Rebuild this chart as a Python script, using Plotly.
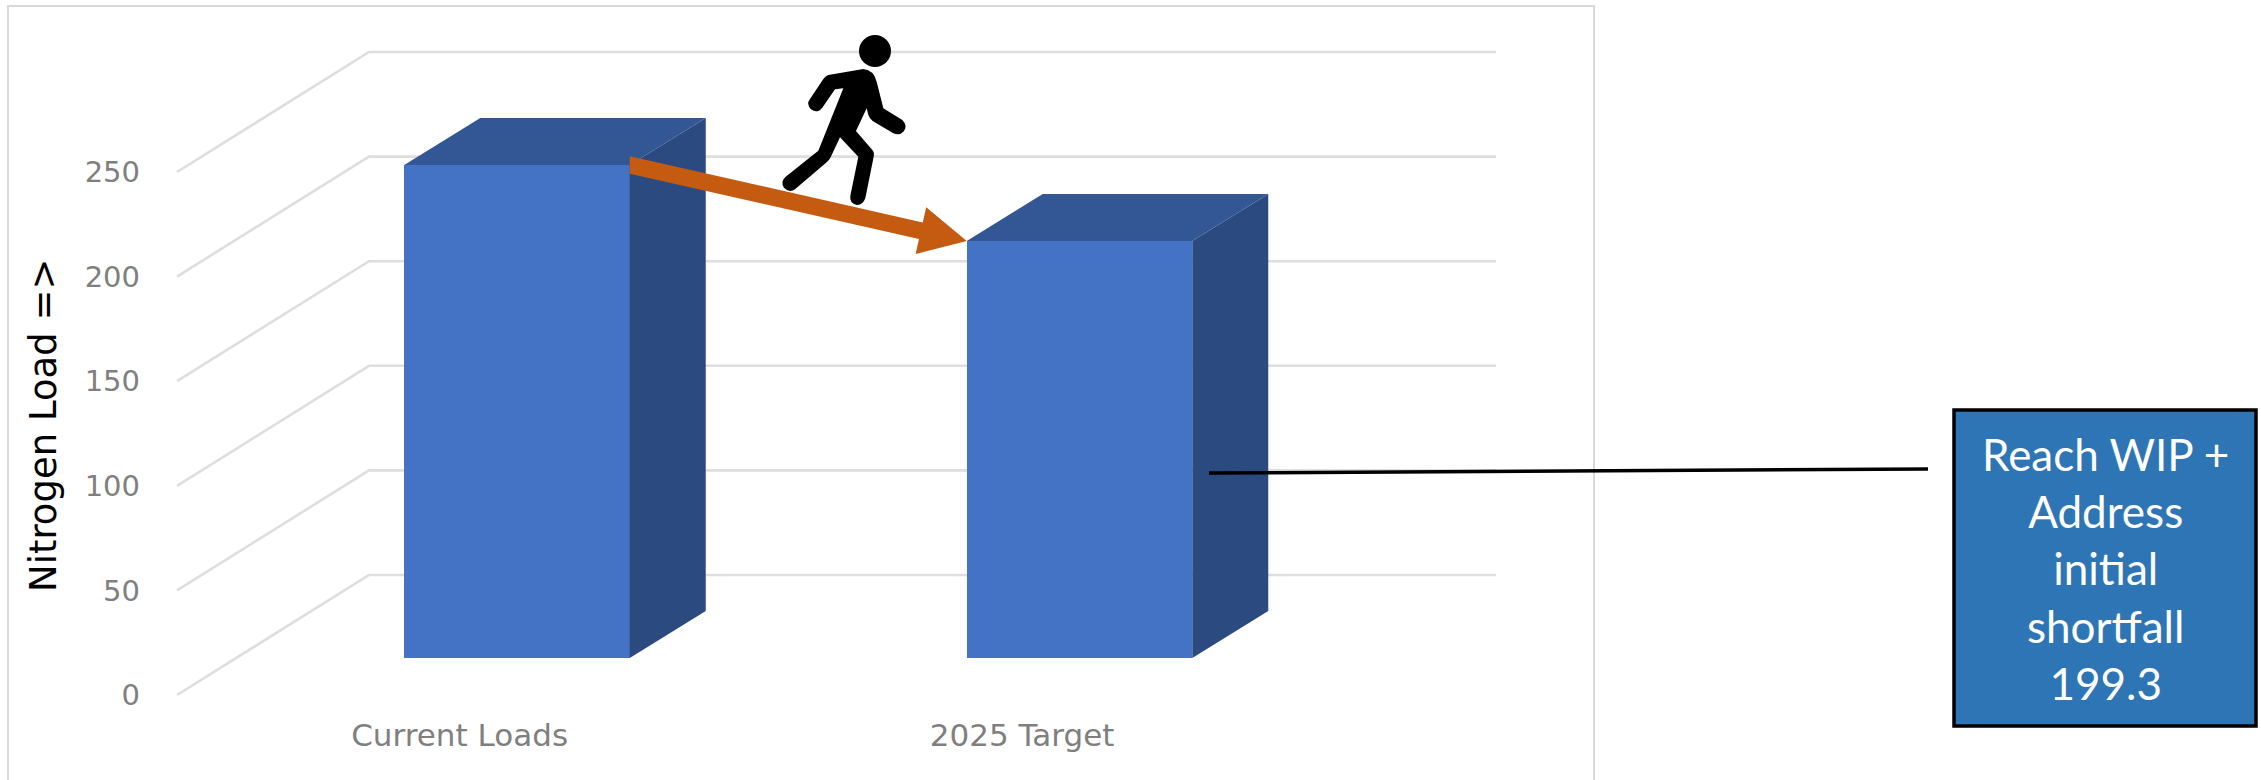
import plotly.graph_objects as go

# ---- data ----
categories = ["Current Loads", "2025 Target"]
nitrogen_load = [235.7, 199.3]
tick_values = [0, 50, 100, 150, 200, 250]
axis_title = "Nitrogen Load =>"
callout_lines = ["Reach WIP +", "Address", "initial", "shortfall", "199.3"]

# ---- page geometry ----
W, H = 2261, 780
ML, MB = 141, 66
CAT0_PX, PX_PER_CAT = 517.0, 562.5      # horizontal scale of the front plane
BASE_PX, PX_PER_UNIT = 658.0, 2.092     # vertical scale of the front plane
BAR_W = 225.5 / PX_PER_CAT
DEPTH_X, DEPTH_V = 76 / PX_PER_CAT, 47 / PX_PER_UNIT
FRONT_V = (BASE_PX - 695) / PX_PER_UNIT   # axis zero on the front edge of the floor
BACK_V = (BASE_PX - 575) / PX_PER_UNIT    # axis zero on the back wall
FLOOR_X0 = (177 - CAT0_PX) / PX_PER_CAT
WALL_X0 = (369 - CAT0_PX) / PX_PER_CAT
WALL_X1 = (1496 - CAT0_PX) / PX_PER_CAT
LABEL_SHIFT = -0.102

def px(x):
    return (x - ML) / (W - ML)
def py(y):
    return 1 - y / (H - MB)
def to_x(x):
    return (x - CAT0_PX) / PX_PER_CAT
def to_v(y):
    return (BASE_PX - y) / PX_PER_UNIT

fig = go.Figure()

# front faces
xs = list(range(len(categories)))
fig.add_trace(go.Bar(x=xs, y=nitrogen_load, width=BAR_W, marker=dict(color="#4472C4", line=dict(width=0)),
                     showlegend=False, hoverinfo="skip"))

# side and top faces
for i, v in zip(xs, nitrogen_load):
    l, r = i - BAR_W / 2, i + BAR_W / 2
    fig.add_trace(go.Scatter(x=[r, r + DEPTH_X, r + DEPTH_X, r, r], y=[0, DEPTH_V, v + DEPTH_V, v, 0],
                             mode="lines", fill="toself", fillcolor="#2B4A80", line=dict(width=0),
                             showlegend=False, hoverinfo="skip"))
    fig.add_trace(go.Scatter(x=[l, r, r + DEPTH_X, l + DEPTH_X, l], y=[v, v, v + DEPTH_V, v + DEPTH_V, v],
                             mode="lines", fill="toself", fillcolor="#335694", line=dict(width=0),
                             showlegend=False, hoverinfo="skip"))

# orange arrow between the bar tops, built in page pixels from the two values
def val_px(v):
    return BASE_PX - v * PX_PER_UNIT
tail = (CAT0_PX + (xs[0] + BAR_W / 2) * PX_PER_CAT, val_px(nitrogen_load[0]))
tip = (CAT0_PX + (xs[1] - BAR_W / 2) * PX_PER_CAT, val_px(nitrogen_load[1]))
dx, dy = tip[0] - tail[0], tip[1] - tail[1]
n = (dx * dx + dy * dy) ** 0.5
ux, uy = dx / n, dy / n
nx, ny = -uy, ux
sh, hh, hl = 8.5, 24, 47
neck = (tip[0] - ux * hl, tip[1] - uy * hl)
poly = [(tail[0], tail[1] + sh / ux), (neck[0] + nx * sh, neck[1] + ny * sh),
        (neck[0] + nx * hh, neck[1] + ny * hh), tip, (neck[0] - nx * hh, neck[1] - ny * hh),
        (neck[0] - nx * sh, neck[1] - ny * sh), (tail[0], tail[1] - sh / ux)]
poly.append(poly[0])
fig.add_trace(go.Scatter(x=[to_x(p[0]) for p in poly], y=[to_v(p[1]) for p in poly], mode="lines",
                         fill="toself", fillcolor="#C55A11", line=dict(width=0),
                         showlegend=False, hoverinfo="skip"))

shapes = []
# gridlines: floor edge then back wall
for t in tick_values:
    path_pts = [(FLOOR_X0, t + FRONT_V), (WALL_X0, t + BACK_V), (WALL_X1, t + BACK_V)]
    d = "M" + " L".join(f"{a:.5f},{b:.3f}" for a, b in path_pts)
    shapes.append(dict(type="path", path=d, xref="x", yref="y", layer="below",
                       line=dict(color="#DEDEDE", width=2.6)))

# frame round the chart
shapes.append(dict(type="path", xref="paper", yref="paper", layer="below",
                   path=f"M{px(8):.5f},{py(800):.5f} L{px(8):.5f},{py(6):.5f} L{px(1594):.5f},{py(6):.5f} L{px(1594):.5f},{py(800):.5f}",
                   line=dict(color="#D9D9D9", width=2)))

# leader line
shapes.append(dict(type="line", xref="paper", yref="paper", x0=px(1209), y0=py(473), x1=px(1928), y1=py(469),
                   line=dict(color="black", width=3.5)))
# callout box
shapes.append(dict(type="rect", xref="paper", yref="paper", x0=px(1954), y0=py(410), x1=px(2256), y1=py(726),
                   fillcolor="#2E75B6", line=dict(color="black", width=3.5)))

# walker icon, outlined in a 3x crop of the figure
def wx(a):
    return px(740 + a / 3)
def wy(b):
    return py(20 + b / 3)
cmds = [("M", 265, 165), ("L", 370, 147), ("Q", 402, 150, 410, 185), ("L", 430, 265), ("L", 487, 300),
        ("Q", 505, 318, 490, 335), ("Q", 478, 348, 460, 340), ("L", 398, 303), ("Q", 388, 295, 385, 285),
        ("L", 380, 265), ("L", 348, 333), ("L", 397, 390), ("Q", 404, 398, 401, 410), ("L", 376, 535),
        ("Q", 368, 556, 350, 555), ("Q", 328, 550, 331, 527), ("L", 355, 410), ("L", 300, 352),
        ("L", 272, 412), ("Q", 268, 420, 260, 427), ("L", 165, 508), ("Q", 148, 520, 132, 503),
        ("Q", 120, 485, 137, 470), ("L", 235, 392), ("L", 310, 205), ("L", 285, 208), ("L", 247, 263),
        ("Q", 232, 282, 213, 268), ("Q", 198, 252, 210, 237), ("L", 250, 177), ("Q", 256, 168, 265, 165)]
parts = []
for c in cmds:
    vals = c[1:]
    pts = " ".join(f"{wx(vals[j]):.5f},{wy(vals[j + 1]):.5f}" for j in range(0, len(vals), 2))
    parts.append(c[0] + pts)
shapes.append(dict(type="path", xref="paper", yref="paper", path=" ".join(parts) + " Z",
                   fillcolor="black", line=dict(width=0)))
shapes.append(dict(type="circle", xref="paper", yref="paper", x0=wx(357), x1=wx(453), y0=wy(45), y1=wy(141),
                   fillcolor="black", line=dict(width=0)))

annotations = [
    dict(text=axis_title, xref="paper", yref="paper", x=px(43), y=py(425), textangle=-90, showarrow=False,
         xanchor="center", yanchor="middle", font=dict(family="DejaVu Sans", size=37, color="black")),
    dict(text="<br>".join(callout_lines), xref="paper", yref="paper", x=px(2105), y=py(568), showarrow=False,
         xanchor="center", yanchor="middle", align="center",
         font=dict(family="Lato", size=44, color="white")),
]

fig.update_layout(
    width=W, height=H, margin=dict(l=ML, r=0, t=0, b=MB), autosize=False,
    paper_bgcolor="white", plot_bgcolor="rgba(0,0,0,0)", showlegend=False, bargap=0,
    shapes=shapes, annotations=annotations,
    xaxis=dict(range=[to_x(ML), to_x(W)], tickvals=[i + LABEL_SHIFT for i in xs], ticktext=categories,
               showgrid=False, zeroline=False, showline=False, ticks="",
               tickfont=dict(family="DejaVu Sans", size=31, color="#7F7F7F")),
    yaxis=dict(range=[to_v(H - MB), to_v(0)], tickvals=[t + FRONT_V for t in tick_values],
               ticktext=[str(t) for t in tick_values], showgrid=False, zeroline=False, showline=False, ticks="",
               tickfont=dict(family="DejaVu Sans", size=29, color="#7F7F7F")),
)

fig.write_html("out.html", config={"displayModeBar": False},
               post_script="document.body.style.margin='0';document.body.style.overflow='hidden';")
